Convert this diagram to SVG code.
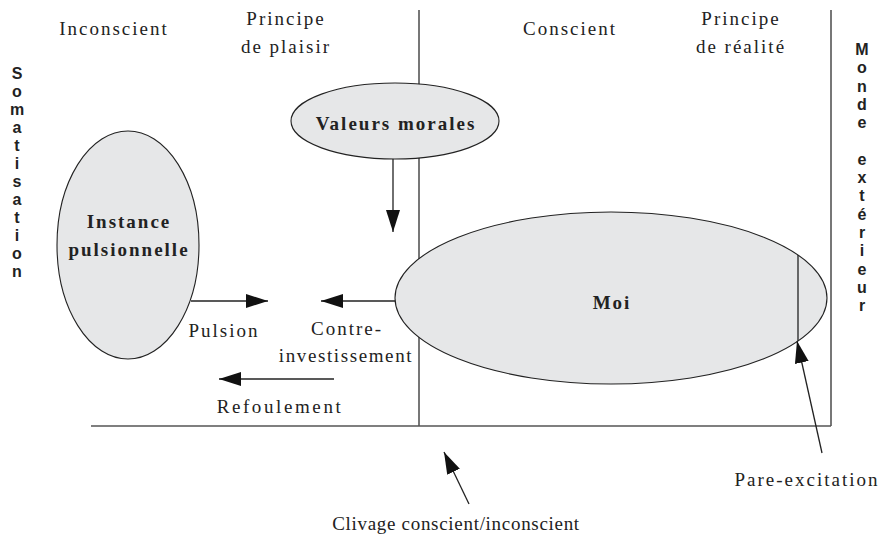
<svg xmlns="http://www.w3.org/2000/svg" width="883" height="542" viewBox="0 0 883 542">
<style>
.t{font-family:"Liberation Serif","Times New Roman",serif;font-size:19px;fill:#222;letter-spacing:2px;text-anchor:middle}
.b{font-weight:bold}
.v{font-family:"Liberation Sans",Arial,sans-serif;font-size:16px;font-weight:bold;fill:#222;text-anchor:middle}
.frame{stroke:#555;stroke-width:1.6;fill:none}
.node{fill:#e6e7e8;stroke:#222;stroke-width:1.1}
.arr{stroke:#222;stroke-width:1.3;fill:none;marker-end:url(#ah)}
</style>
<defs>
<marker id="ah" markerUnits="userSpaceOnUse" markerWidth="23" markerHeight="15" refX="22" refY="7" orient="auto">
<path d="M0,0 L22,7 L0,14 z" fill="#111"/>
</marker>
</defs>
<g id="frame">
<line class="frame" x1="419" y1="10" x2="419" y2="426"/>
<line class="frame" x1="831" y1="10" x2="831" y2="426"/>
<line class="frame" x1="91" y1="426" x2="831" y2="426"/>
</g>
<g id="labels-top">
<text class="t" x="114" y="35">Inconscient</text>
<text class="t" x="286" y="25">Principe</text>
<text class="t" x="286" y="53">de plaisir</text>
<text class="t" x="570" y="35">Conscient</text>
<text class="t" x="741" y="25">Principe</text>
<text class="t" x="741" y="53">de réalité</text>
</g>
<g id="somatisation">
<text class="v" x="17" y="79">S</text>
<text class="v" x="17" y="97">o</text>
<text class="v" x="17" y="115">m</text>
<text class="v" x="17" y="133">a</text>
<text class="v" x="17" y="151">t</text>
<text class="v" x="17" y="169">i</text>
<text class="v" x="17" y="187">s</text>
<text class="v" x="17" y="205">a</text>
<text class="v" x="17" y="223">t</text>
<text class="v" x="17" y="241">i</text>
<text class="v" x="17" y="259">o</text>
<text class="v" x="17" y="277">n</text>
</g>
<g id="monde-exterieur">
<text class="v" x="862" y="55">M</text>
<text class="v" x="862" y="73">o</text>
<text class="v" x="862" y="92">n</text>
<text class="v" x="862" y="110">d</text>
<text class="v" x="862" y="128">e</text>
<text class="v" x="862" y="165">e</text>
<text class="v" x="862" y="183">x</text>
<text class="v" x="862" y="201">t</text>
<text class="v" x="862" y="220">é</text>
<text class="v" x="862" y="238">r</text>
<text class="v" x="862" y="256">i</text>
<text class="v" x="862" y="275">e</text>
<text class="v" x="862" y="293">u</text>
<text class="v" x="862" y="311">r</text>
</g>
<g id="valeurs-morales">
<ellipse class="node" cx="395" cy="121" rx="104" ry="38"/>
<text class="t b" x="396" y="130">Valeurs morales</text>
</g>
<g id="instance-pulsionnelle">
<ellipse class="node" cx="128" cy="245" rx="71" ry="114"/>
<text class="t b" x="129" y="228">Instance</text>
<text class="t b" x="129" y="256">pulsionnelle</text>
</g>
<g id="moi">
<ellipse class="node" cx="611" cy="298" rx="216" ry="86"/>
<line x1="798" y1="255" x2="798" y2="341" stroke="#222" stroke-width="1.3"/>
<text class="t b" x="612" y="309">Moi</text>
</g>
<g id="connectors">
<line class="arr" x1="393" y1="159" x2="393" y2="232"/>
<line class="arr" x1="191" y1="301" x2="268" y2="301"/>
<line class="arr" x1="395" y1="301" x2="321" y2="301"/>
<line class="arr" x1="334" y1="379" x2="219" y2="379"/>
<line class="arr" x1="822" y1="453" x2="797" y2="341"/>
<line class="arr" x1="469" y1="504" x2="444" y2="452"/>
</g>
<g id="labels">
<text class="t" x="224" y="337">Pulsion</text>
<text class="t" x="347" y="335">Contre-</text>
<text class="t" x="346" y="362" style="letter-spacing:1.6px">investissement</text>
<text class="t" x="280" y="413" style="letter-spacing:2.6px">Refoulement</text>
<text class="t" x="807" y="486">Pare-excitation</text>
<text class="t" x="456" y="530" style="letter-spacing:0.7px">Clivage conscient/inconscient</text>
</g>
</svg>
